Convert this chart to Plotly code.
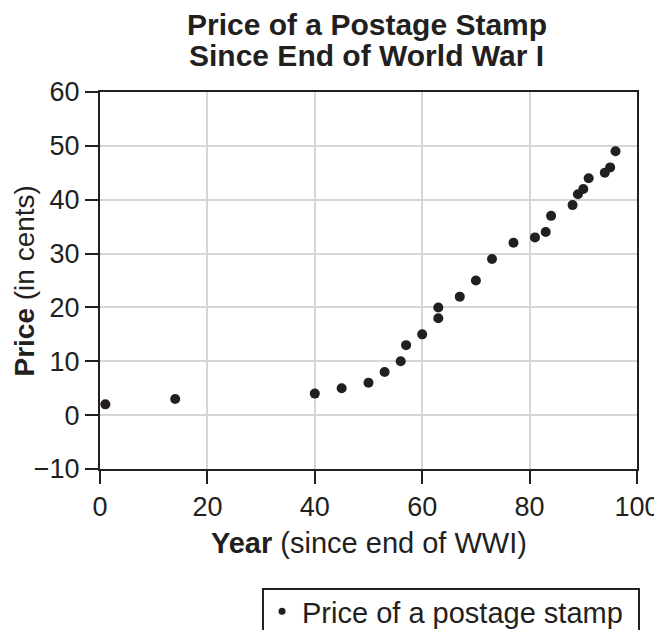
import plotly.graph_objects as go

years = [1, 14, 40, 45, 50, 53, 56, 57, 60, 63, 63, 67, 70, 73, 77, 81, 83, 84, 88, 89, 90, 91, 94, 95, 96]
prices = [2, 3, 4, 5, 6, 8, 10, 13, 15, 18, 20, 22, 25, 29, 32, 33, 34, 37, 39, 41, 42, 44, 45, 46, 49]
series_name = "Price of a postage stamp"
title_lines = ["Price of a Postage Stamp", "Since End of World War I"]
x_title = "<b>Year</b> (since end of WWI)"
y_title = "<b>Price</b> (in cents)"
x_ticks = [0, 20, 40, 60, 80, 100]
y_ticks = [-10, 0, 10, 20, 30, 40, 50, 60]

INK = "#231f20"
FONT = "Liberation Sans, Arial, Helvetica, sans-serif"

fig = go.Figure()
fig.add_trace(go.Scatter(
    x=years, y=prices, mode="markers", name=series_name, showlegend=False,
    marker=dict(size=10, color=INK), cliponaxis=False,
))
fig.add_trace(go.Scatter(
    x=[None], y=[None], mode="markers", name=series_name, showlegend=True,
    marker=dict(size=7, color=INK),
))

axis_common = dict(
    showline=True, linecolor=INK, linewidth=2, mirror=True,
    ticks="outside", ticklen=13, tickwidth=2, tickcolor=INK,
    showgrid=True, gridcolor="#d6d6d6", gridwidth=2, zeroline=False,
    tickfont=dict(family=FONT, size=27, color=INK), automargin=False,
    ticklabeloverflow="allow",
)

annotations = [
    dict(text="<b>" + title_lines[0] + "</b>", xref="paper", yref="paper",
         x=0.497, y=1.1796, xanchor="center", yanchor="middle", showarrow=False,
         font=dict(family=FONT, size=30, color=INK)),
    dict(text="<b>" + title_lines[1] + "</b>", xref="paper", yref="paper",
         x=0.497, y=1.0955, xanchor="center", yanchor="middle", showarrow=False,
         font=dict(family=FONT, size=30, color=INK)),
    dict(text=x_title, xref="paper", yref="paper",
         x=0.5, y=-0.196, xanchor="center", yanchor="middle", showarrow=False,
         font=dict(family=FONT, size=29, color=INK)),
    dict(text=y_title, xref="paper", yref="paper", textangle=-90,
         x=-0.1397, y=0.5, xanchor="center", yanchor="middle", showarrow=False,
         font=dict(family=FONT, size=28, color=INK)),
]

fig.update_layout(
    width=654, height=622,
    margin=dict(l=92, r=25, t=84, b=161, autoexpand=False),
    paper_bgcolor="white", plot_bgcolor="white",
    font=dict(family=FONT, color=INK),
    xaxis=dict(range=[0, 100], tickvals=x_ticks, **axis_common),
    yaxis=dict(range=[-10, 60], tickvals=y_ticks, **axis_common),
    showlegend=True,
    legend=dict(x=0.3017, xanchor="left", y=-0.31, yanchor="top",
                borderwidth=0, bgcolor="rgba(0,0,0,0)",
                font=dict(family=FONT, size=29, color=INK)),
    annotations=annotations,
    shapes=[dict(type="rect", xref="paper", yref="paper",
                 x0=0.3035, x1=1.0037, y0=-0.5, y1=-0.3183,
                 line=dict(color=INK, width=2), fillcolor="rgba(0,0,0,0)")],
)

fig.write_html("out.html")
